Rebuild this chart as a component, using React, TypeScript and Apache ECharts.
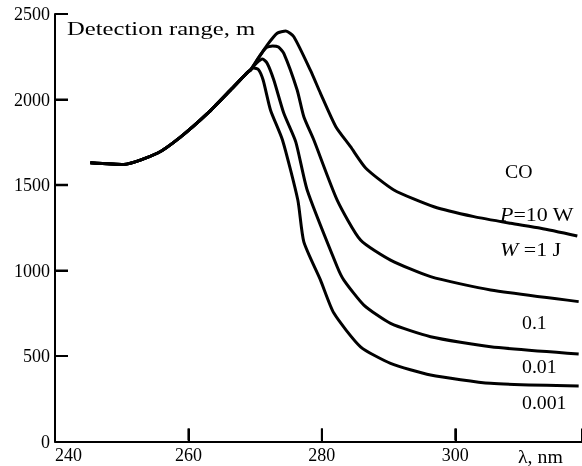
import React, { useEffect, useRef } from 'react';
import * as echarts from 'echarts';

// Shared rising branch (nm, m)
const commonX = [245.3, 250.3, 255.4, 258.8, 262.9, 266.3, 268.9];
const commonY = [1630, 1620, 1687, 1780, 1920, 2055, 2160];

// W = 1 J
const x1 = [269.3, 270.5, 271.8, 273.3, 274.6, 275.8, 278.3, 279.8, 282.1, 284.3, 286.6, 290.8, 296.8, 302.8, 308.3, 312.8, 318.3];
const y1 = [2172, 2243, 2318, 2387, 2400, 2367, 2170, 2036, 1841, 1724, 1598, 1471, 1373, 1315, 1276, 1247, 1202];

// W = 0.1
const x01 = [269.3, 270.5, 271.6, 272.6, 273.5, 274.3, 276.3, 277.3, 278.8, 282.3, 285.8, 290.3, 296.3, 305.3, 318.5];
const y01 = [2172, 2243, 2301, 2313, 2307, 2270, 2056, 1899, 1763, 1412, 1178, 1061, 964, 886, 818];

// W = 0.01
const x001 = [269.3, 270.2, 271.1, 271.8, 272.8, 274.3, 276.1, 277.8, 282.3, 283.3, 286.3, 290.3, 296.3, 305.3, 318.5];
const y001 = [2172, 2213, 2237, 2212, 2114, 1919, 1751, 1471, 1022, 944, 798, 691, 613, 554, 512];

// W = 0.001
const x0001 = [269.8, 270.5, 271.2, 272.3, 274.1, 276.4, 277.3, 279.8, 281.8, 285.8, 290.3, 296.3, 305.3, 318.5];
const y0001 = [2184, 2175, 2114, 1939, 1763, 1412, 1167, 944, 751, 554, 457, 389, 340, 325];

const curveNames = ['1 J', '0.1', '0.01', '0.001'];

// Tick positions
const xTickValues = [260, 280, 300];
const xLabelValues = [240, 260, 280, 300];
const yTickValues = [0, 500, 1000, 1500, 2000, 2500];

const FONT = 'Liberation Serif';

function pairs(xs: number[], ys: number[]) {
  return xs.map((x, i) => [x, ys[i]]);
}

export default function App() {
  const ref = useRef<HTMLDivElement>(null);
  useEffect(() => {
    if (!ref.current) return;
    const chart = echarts.init(ref.current, undefined, { renderer: 'svg' });
    const curves = [
      pairs(commonX.concat(x1), commonY.concat(y1)),
      pairs(commonX.concat(x01), commonY.concat(y01)),
      pairs(commonX.concat(x001), commonY.concat(y001)),
      pairs(commonX.concat(x0001), commonY.concat(y0001)),
    ];
    const txt = (x: number, y: number, text: string, scaleX = 1.1, rich?: any) => {
      const style: any = {
        text,
        x: 0,
        y: 0,
        fill: '#000',
        fontSize: 18,
        fontFamily: FONT,
        align: 'left',
        verticalAlign: 'middle',
      };
      if (rich) style.rich = rich;
      return { type: 'text', x, y, scaleX, style };
    };
    const italic = { fontStyle: 'italic', fontSize: 18, fontFamily: FONT, color: '#000' };
    const norm = { fontSize: 18, fontFamily: FONT, color: '#000' };
    const TICK = 13;
    chart.setOption({
      animation: false,
      grid: { left: 55, right: 0, top: 14, bottom: 24.5 },
      xAxis: {
        type: 'value',
        min: 240,
        max: 319,
        interval: 20,
        splitLine: { show: false },
        axisLine: { show: true, lineStyle: { color: '#000', width: 2 } },
        axisTick: { show: true, inside: true, length: TICK, lineStyle: { color: '#000', width: 2 } },
        axisLabel: {
          color: '#000',
          fontSize: 18,
          fontFamily: FONT,
          margin: 4,
          alignMinLabel: 'left',
          customValues: xLabelValues,
          formatter: (v: number) => (v % 20 === 0 ? String(v) : ''),
        },
      },
      yAxis: {
        type: 'value',
        min: 0,
        max: 2500,
        interval: 500,
        splitLine: { show: false },
        axisLine: { show: true, lineStyle: { color: '#000', width: 2 } },
        axisTick: { show: true, inside: true, length: TICK, lineStyle: { color: '#000', width: 2 } },
        axisLabel: { color: '#000', fontSize: 18, fontFamily: FONT, margin: 5, formatter: (v: number) => String(v) },
      },
      series: [
        ...curves.map((d, i) => ({
          name: curveNames[i],
          type: 'line',
          data: d,
          smooth: 0.2,
          showSymbol: false,
          symbol: 'none',
          lineStyle: { color: '#000', width: 3 },
          itemStyle: { color: '#000' },
        })),
        {
          type: 'custom',
          data: [[250, 2000]],
          renderItem: (params: any, api: any) => {
            const p = api.coord([240, api.value(1)]);
            return {
              type: 'line',
              shape: { x1: p[0] + 1, y1: p[1], x2: p[0] + TICK, y2: p[1] },
              style: { stroke: '#000', lineWidth: 2 },
            };
          },
        },
        {
          type: 'custom',
          data: [[300, 500]],
          renderItem: (params: any, api: any) => {
            const p = api.coord([api.value(0), 0]);
            return {
              type: 'line',
              shape: { x1: p[0], y1: p[1] - 1, x2: p[0], y2: p[1] - TICK },
              style: { stroke: '#000', lineWidth: 2 },
            };
          },
        },
      ],
    });
    const py = (v: number) => chart.convertToPixel({ gridIndex: 0 }, [240, v]);
    const px = (v: number) => chart.convertToPixel({ gridIndex: 0 }, [v, 0]);
    const p500 = py(yTickValues[1]);
    const p1000 = py(yTickValues[2]);
    const p1500 = py(yTickValues[3]);
    const p260 = px(xTickValues[0]);
    const p280 = px(xTickValues[1]);
    const tickEls: any[] = [
      { type: 'line', z: 50, shape: { x1: p500[0] + 1, y1: p500[1], x2: p500[0] + TICK, y2: p500[1] }, style: { stroke: '#000', lineWidth: 2 } },
      { type: 'rect', z: 50, shape: { x: p1000[0] + 1, y: p1000[1] - 1, width: TICK - 1, height: 2 }, style: { fill: '#000' } },
      { type: 'line', z: 50, shape: { x1: p1500[0] + 1, y1: p1500[1], x2: p1500[0] + TICK, y2: p1500[1] }, style: { stroke: '#000', lineWidth: 2.5 } },
      { type: 'line', z: 50, shape: { x1: p260[0], y1: p260[1] - 1, x2: p260[0], y2: p260[1] - TICK }, style: { stroke: '#000', lineWidth: 2 } },
      { type: 'rect', z: 50, shape: { x: p280[0] - 1, y: p280[1] - TICK, width: 2, height: TICK - 1 }, style: { fill: '#000' } },
    ];
    chart.setOption({
      graphic: [
        txt(67, 29, 'Detection range, m', 1.37),
        txt(505, 172, 'CO', 1.1),
        txt(500, 215, '{i|P}{n|=10 W}', 1.22, { i: italic, n: norm }),
        txt(500, 250, '{i|W}{n| =1 J}', 1.22, { i: italic, n: norm }),
        txt(522, 323, '0.1', 1.1),
        txt(522, 367, '0.01', 1.1),
        txt(522, 403, '0.001', 1.1),
        txt(518, 457, 'λ, nm', 1.1),
        ...tickEls,
      ],
    });
    return () => chart.dispose();
  }, []);
  return <div ref={ref} style={{ position: 'fixed', left: 0, top: 0, width: 582, height: 466 }} />;
}
